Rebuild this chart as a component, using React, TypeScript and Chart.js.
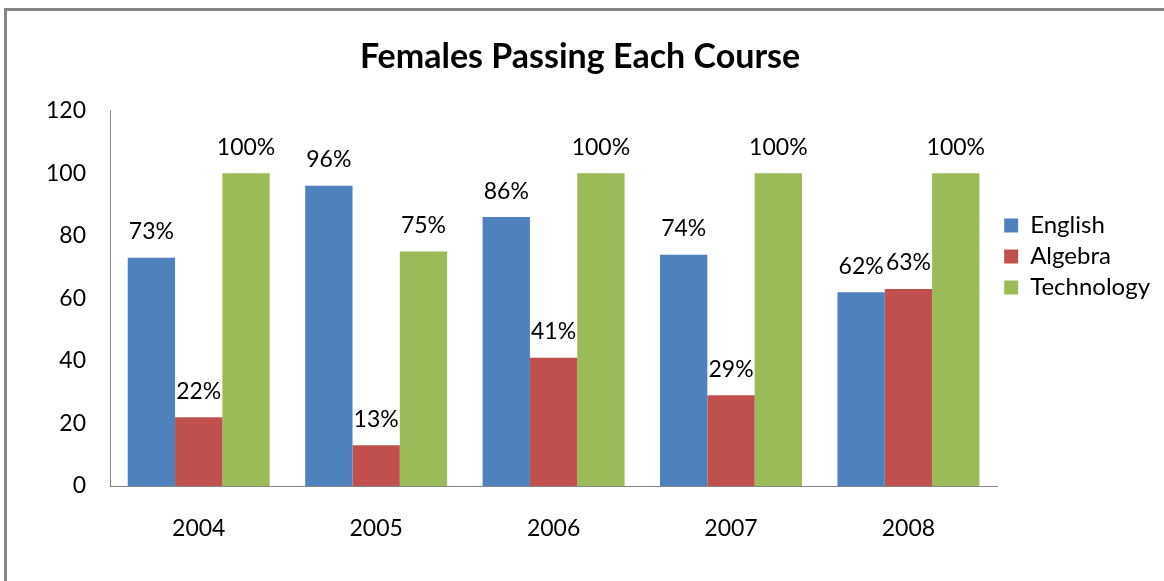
import React, { useEffect, useRef } from "react";
import { Chart, registerables } from "chart.js";

Chart.register(...registerables);

const years = ["2004", "2005", "2006", "2007", "2008"];
const english = [73, 96, 86, 74, 62];
const algebra = [22, 13, 41, 29, 63];
const technology = [100, 75, 100, 100, 100];
const seriesNames = ["English", "Algebra", "Technology"];
const seriesColors = ["#4F81BD", "#C0504D", "#9BBB59"];
const yTickMin = 0;
const yTickMax = 120;
const yTickStep = 20;

const FONT = "Lato, 'Liberation Sans', sans-serif";

const valueLabels = {
  id: "valueLabels",
  afterDatasetsDraw(chart: any) {
    const ctx = chart.ctx;
    ctx.save();
    ctx.font = `23px ${FONT}`;
    ctx.fillStyle = "#000";
    ctx.textAlign = "center";
    ctx.textBaseline = "middle";
    chart.data.datasets.forEach((ds: any, i: number) => {
      const meta = chart.getDatasetMeta(i);
      meta.data.forEach((bar: any, j: number) => {
        ctx.fillText(`${ds.data[j]}%`, bar.x, bar.y - 26);
      });
    });
    ctx.restore();
  },
};

export default function App() {
  const ref = useRef<HTMLCanvasElement | null>(null);
  useEffect(() => {
    if (!ref.current) return;
    const data = [english, algebra, technology];
    const chart = new Chart(ref.current, {
      type: "bar",
      data: {
        labels: years,
        datasets: seriesNames.map((name, i) => ({
          label: name,
          data: data[i],
          backgroundColor: seriesColors[i],
          borderWidth: 0,
          categoryPercentage: 0.8,
          barPercentage: 1.0,
        })),
      },
      options: {
        animation: false,
        responsive: false,
        layout: { padding: { left: 0, right: 4, top: -33, bottom: 35 } },
        plugins: {
          tooltip: { enabled: false },
          title: {
            display: true,
            text: "Females Passing Each Course",
            color: "#000",
            font: { family: FONT, size: 34, weight: "bold", lineHeight: 1.2 },
            padding: { top: 70, bottom: 33 },
          },
          legend: {
            display: true,
            position: "right",
            align: "center",
            labels: {
              boxWidth: 14,
              boxHeight: 14,
              padding: 7,
              color: "#000",
              font: { family: FONT, size: 24 },
            },
          },
        },
        scales: {
          x: {
            grid: { display: false, drawTicks: false },
            border: { display: true, color: "#868686", width: 1 },
            ticks: { color: "#000", padding: 29, font: { family: FONT, size: 23 } },
            afterFit: (s: any) => {
              s.height = 60;
            },
          },
          y: {
            min: yTickMin,
            max: yTickMax,
            grid: { display: false, drawTicks: false },
            border: { display: true, color: "#868686", width: 1 },
            ticks: {
              stepSize: yTickStep,
              color: "#000",
              padding: 24,
              font: { family: FONT, size: 23 },
            },
            afterFit: (s: any) => {
              s.width = 110;
            },
          },
        },
      },
      plugins: [valueLabels],
    });
    return () => chart.destroy();
  }, []);

  return (
    <div
      style={{
        position: "fixed",
        left: 0,
        top: 0,
        width: 1164,
        height: 581,
        overflow: "hidden",
        background: "#fff",
      }}
    >
      <div
        style={{
          position: "absolute",
          left: 4,
          top: 8,
          width: 1300,
          height: 700,
          border: "3px solid #868686",
        }}
      />
      <canvas
        ref={ref}
        width={1164}
        height={581}
        style={{ position: "absolute", left: 0, top: 0, width: 1164, height: 581 }}
      />
    </div>
  );
}
